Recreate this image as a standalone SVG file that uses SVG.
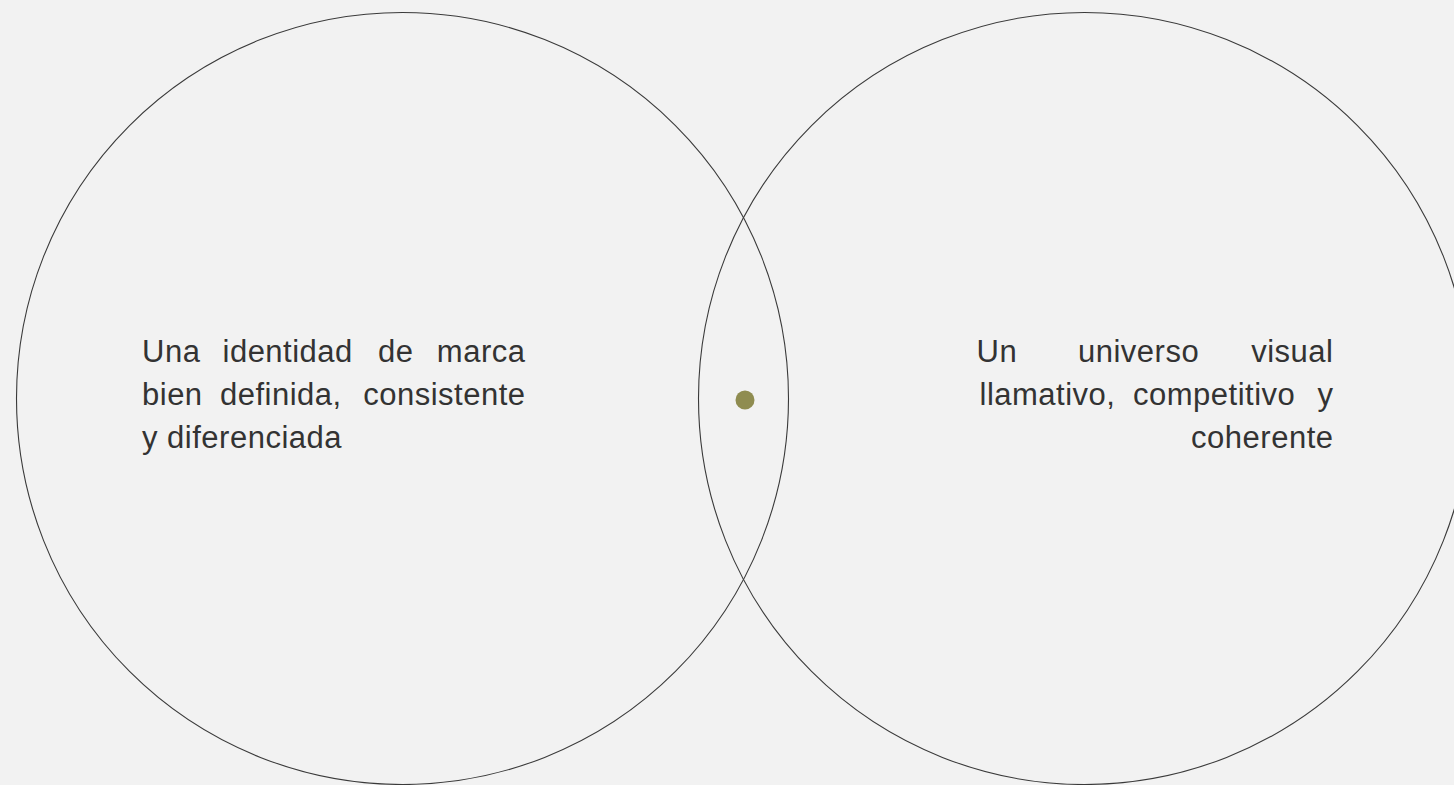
<svg xmlns="http://www.w3.org/2000/svg" width="1454" height="785" viewBox="0 0 1454 785">
  <style>
    .ring { fill: none; stroke: #3a3a3a; stroke-width: 1.1; }
    .lbl { font-family: "Liberation Sans", Arial, Helvetica, sans-serif; font-size: 31px; letter-spacing: 0.5px; fill: #333333; }
    .end { text-anchor: end; }
  </style>
  <rect x="0" y="0" width="1454" height="785" fill="#f2f2f2"/>
  <g id="left-circle">
    <circle class="ring" cx="402.5" cy="398.5" r="386"/>
    <text class="lbl" y="362"><tspan x="142">Una</tspan><tspan x="222.5">identidad</tspan><tspan x="378">de</tspan></text>
    <text class="lbl end" x="525.5" y="362">marca</text>
    <text class="lbl" y="405"><tspan x="142">bien</tspan><tspan x="220">definida,</tspan></text>
    <text class="lbl end" x="525.5" y="405">consistente</text>
    <text class="lbl" x="142" y="447.5">y diferenciada</text>
  </g>
  <g id="right-circle">
    <circle class="ring" cx="1084.5" cy="398.5" r="386"/>
    <text class="lbl" y="362"><tspan x="976.5">Un</tspan><tspan x="1078">universo</tspan></text>
    <text class="lbl end" x="1333.5" y="362">visual</text>
    <text class="lbl" y="405"><tspan x="979.5">llamativo,</tspan><tspan x="1133">competitivo</tspan></text>
    <text class="lbl end" x="1333.5" y="405">y</text>
    <text class="lbl end" x="1333.5" y="447.5">coherente</text>
  </g>
  <g id="center-dot">
    <circle cx="745" cy="400" r="9.5" fill="#8f8c50"/>
  </g>
  <g id="connectors"></g>
</svg>
